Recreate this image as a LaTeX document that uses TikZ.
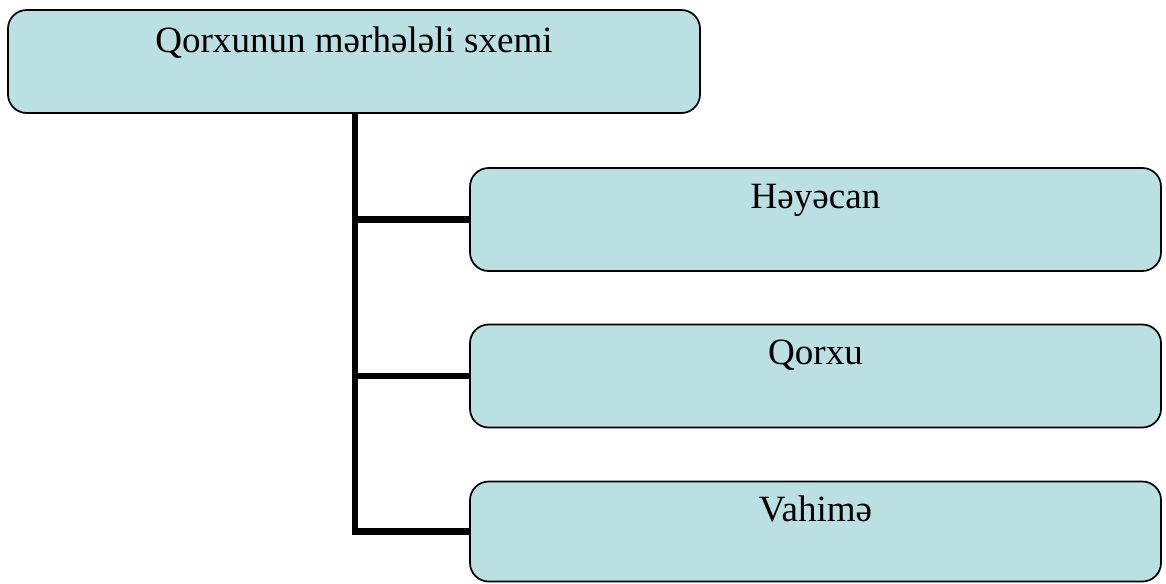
\documentclass[tikz,border=0pt]{standalone}
\usepackage{fontspec}
\setmainfont{Liberation Serif}
\usetikzlibrary{calc}
\definecolor{boxfill}{RGB}{187,224,227}
\tikzset{
  stagebox/.style={draw=black, line width=1.3pt, fill=boxfill, rounded corners=14pt,
    inner sep=0pt, minimum width=#1*0.75pt, minimum height=103*0.75pt},
  stagetext/.style={anchor=base, font=\fontsize{27.8}{32}\selectfont, inner sep=0pt},
  trunkline/.style={line width=4.6pt, line join=miter, line cap=butt}
}
\begin{document}
\begin{tikzpicture}[x=0.75pt, y=-0.75pt]
  \useasboundingbox (0,0) rectangle (1166,583);

  % boxes
  \node[stagebox=692] (top) at (354,61.5) {};
  \node[stagebox=691] (c1) at (815.5,219.5) {};
  \node[stagebox=691] (c2) at (815.5,376) {};
  \node[stagebox=691, minimum height=100*0.75pt] (c3) at (815.5,531.5) {};

  % trunk from the top box down to the last stage, with a branch to each stage
  \coordinate (trunk) at (355,113);
  \draw[trunkline] (top.south -| trunk) |- (c3.west);
  \draw[trunkline] (trunk |- c1.west) -- (c1.west);
  \draw[trunkline] (trunk |- c2.west) -- (c2.west);

  % labels, set near the top edge of each box
  \node[stagetext] (ttop) at ($(top.north)+(0,43)$) {Qorxunun mərhələli sxemi};
  \node[stagetext] (t1) at ($(c1.north)+(0,41)$) {Həyəcan};
  \node[stagetext] (t2) at ($(c2.north)+(0,41)$) {Qorxu};
  \node[stagetext] (t3) at ($(c3.north)+(0,41)$) {Vahimə};
\end{tikzpicture}
\end{document}
